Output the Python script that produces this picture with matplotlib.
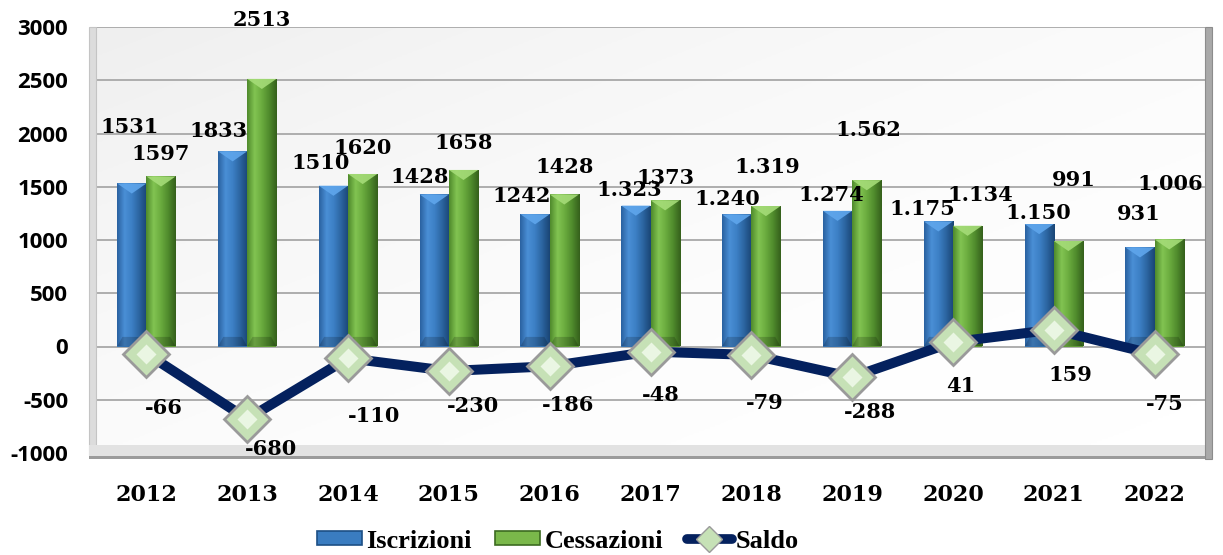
import matplotlib
matplotlib.use("Agg")
import matplotlib.pyplot as plt
import numpy as np
from matplotlib.patches import Rectangle, Polygon, Patch
from matplotlib.lines import Line2D
from matplotlib.colors import LinearSegmentedColormap

# ---------------- data ----------------
years = ["2012", "2013", "2014", "2015", "2016", "2017", "2018", "2019", "2020", "2021", "2022"]
iscrizioni = [1531, 1833, 1510, 1428, 1242, 1323, 1240, 1274, 1175, 1150, 931]
cessazioni = [1597, 2513, 1620, 1658, 1428, 1373, 1319, 1562, 1134, 991, 1006]
saldo = [-66, -680, -110, -230, -186, -48, -79, -288, 41, 159, -75]

iscr_labels = ["1531", "1833", "1510", "1428", "1242", "1.323", "1.240", "1.274", "1.175", "1.150", "931"]
cess_labels = ["1597", "2513", "1620", "1658", "1428", "1373", "1.319", "1.562", "1.134", "991", "1.006"]
saldo_labels = ["-66", "-680", "-110", "-230", "-186", "-48", "-79", "-288", "41", "159", "-75"]

y_ticks = [-1000, -500, 0, 500, 1000, 1500, 2000, 2500, 3000]

# label placement offsets (pixels) relative to the mark
iscr_off = [(-2, 56), (-14, 20), (-13, 23), (-15, 17), (-13, 18), (-7, 16), (-9, 15),
            (-6, 16), (-16, 12), (-1, 11), (-1, 33)]
cess_off = [(0, 22), (0, 59), (0, 26), (0, 27), (0, 27), (0, 22), (1, 39), (2, 50),
            (13, 31), (5, 61), (1, 55)]
saldo_off = [(17, -54), (24, -30), (26, -58), (24, -35), (18, -39), (10, -43), (13, -48),
             (18, -35), (8, -44), (17, -45), (10, -50)]

# ---------------- figure ----------------
W, H = 1223, 555
fig = plt.figure(figsize=(W / 100, H / 100), dpi=100)
fig.patch.set_facecolor("white")
ax = fig.add_axes([96 / W, 1 - 453 / H, (1205 - 96) / W, (453 - 27) / H])

# background gradient of plot area
gx, gy = np.meshgrid(np.linspace(0, 1, 200), np.linspace(0, 1, 200))
g = np.clip((0.5 * (1 - gx) + 0.5 * gy), 0, 1) ** 2
bg_cmap = LinearSegmentedColormap.from_list("bg", ["#ffffff", "#efefef"])
ax.imshow(g, extent=[0, 1, 0, 1], transform=ax.transAxes, aspect="auto",
          cmap=bg_cmap, vmin=0, vmax=1, zorder=-2, origin="lower")

x = np.arange(len(years))
bw = 0.29

blue_cmap = LinearSegmentedColormap.from_list(
    "b", ["#2a62a0", "#4a8fd6", "#3c7fc4", "#2b649f", "#1a4575"])
green_cmap = LinearSegmentedColormap.from_list(
    "g", ["#4f8a2c", "#82c452", "#6aab3e", "#4f8a2c", "#35601c"])

bars_i = ax.bar(x - bw / 2, iscrizioni, bw, color="#3a7cc0", zorder=2)
bars_c = ax.bar(x + bw / 2, cessazioni, bw, color="#6aab3e", zorder=2)

grad = np.linspace(0, 1, 64).reshape(1, -1)
for bars, cmap, bevel in ((bars_i, blue_cmap, "#5fa6ec"), (bars_c, green_cmap, "#a5dc78")):
    for b in bars:
        x0, w, h = b.get_x(), b.get_width(), b.get_height()
        im = ax.imshow(grad, extent=[x0, x0 + w, 0, h], aspect="auto", cmap=cmap,
                       zorder=2.1, origin="lower")
        im.set_clip_path(b)
        tri = Polygon([(x0, h), (x0 + w, h), (x0 + w / 2, h - 95)], closed=True,
                      facecolor=bevel, edgecolor="none", alpha=0.9, zorder=2.2)
        ax.add_patch(tri)
        bot = Polygon([(x0, 0), (x0 + w, 0), (x0 + w * 0.82, 90), (x0 + w * 0.18, 90)],
                      closed=True, facecolor="black", edgecolor="none", alpha=0.18, zorder=2.2)
        ax.add_patch(bot)

# saldo line
ax.plot(x, saldo, color="#04215e", lw=7.2, zorder=3, solid_capstyle="round",
        solid_joinstyle="round")
ax.plot(x, saldo, linestyle="none", marker="D", markersize=23, markerfacecolor="#c6e1b6",
        markeredgecolor="#9a9a9a", markeredgewidth=2.0, zorder=4)
ax.plot(x, saldo, linestyle="none", marker="D", markersize=10, markerfacecolor="#eaf6e3",
        markeredgecolor="none", zorder=4.1)

# data labels
lab_font = dict(family="DejaVu Serif", fontweight="bold", fontsize=15, color="black")
for b, t, (dx, dy) in zip(bars_i, iscr_labels, iscr_off):
    ax.annotate(t, (b.get_x() + b.get_width() / 2, b.get_height()), xytext=(dx, dy),
                textcoords="offset pixels", ha="center", va="center", zorder=6, **lab_font)
for b, t, (dx, dy) in zip(bars_c, cess_labels, cess_off):
    ax.annotate(t, (b.get_x() + b.get_width() / 2, b.get_height()), xytext=(dx, dy),
                textcoords="offset pixels", ha="center", va="center", zorder=6, **lab_font)
for xi, v, t, (dx, dy) in zip(x, saldo, saldo_labels, saldo_off):
    ax.annotate(t, (xi, v), xytext=(dx, dy), textcoords="offset pixels",
                ha="center", va="center", zorder=6, **lab_font)

# axes
ax.set_xlim(-0.5, len(years) - 0.5)
ax.set_ylim(-1000, 3000)
ax.set_yticks(y_ticks)
ax.set_yticklabels([str(v) for v in y_ticks], fontfamily="Open Sans", fontweight="bold",
                   fontsize=16)
ax.set_xticks(x)
ax.set_xticklabels(years, fontfamily="DejaVu Serif", fontweight="bold", fontsize=16)
ax.tick_params(axis="y", length=0, pad=20)
ax.tick_params(axis="x", length=0, pad=22)
ax.yaxis.grid(True, color="#a8a8a8", lw=1.3, zorder=-1)
ax.set_axisbelow(True)
for s in ax.spines.values():
    s.set_visible(False)

# 3D wall frame
ax.add_patch(Rectangle((-0.006, -0.005), 0.006, 1.005, transform=ax.transAxes, clip_on=False,
                       facecolor="#dcdcdc", edgecolor="#c4c4c4", lw=0.8, zorder=1))
ax.add_patch(Rectangle((-0.006, -0.012), 1.012, 0.03, transform=ax.transAxes, clip_on=False,
                       facecolor="#e2e2e2", edgecolor="none", zorder=1))
ax.add_patch(Rectangle((-0.006, -0.014), 1.012, 0.008, transform=ax.transAxes, clip_on=False,
                       facecolor="#9b9b9b", edgecolor="none", zorder=1))
ax.add_patch(Rectangle((1.0, -0.014), 0.006, 1.014, transform=ax.transAxes, clip_on=False,
                       facecolor="#a9a9a9", edgecolor="#8c8c8c", lw=0.8, zorder=1))

# legend
handles = [
    Patch(facecolor="#3a7cc0", edgecolor="#1d4f85", lw=1.2),
    Patch(facecolor="#7ab84a", edgecolor="#3c6b20", lw=1.2),
    Line2D([0], [0], color="#04215e", lw=7, marker="D", markersize=13,
           markerfacecolor="#c6e1b6", markeredgecolor="#9a9a9a", solid_capstyle="round"),
]
fig.legend(handles, ["Iscrizioni", "Cessazioni", "Saldo"], loc="center",
           bbox_to_anchor=(558 / W, 1 - 541 / H), ncol=3, frameon=False,
           prop=dict(family="Liberation Serif", weight="bold", size=19),
           handlelength=1.7, handleheight=0.45, handletextpad=0.15, columnspacing=0.9)

fig.savefig("out.png", dpi=100)
